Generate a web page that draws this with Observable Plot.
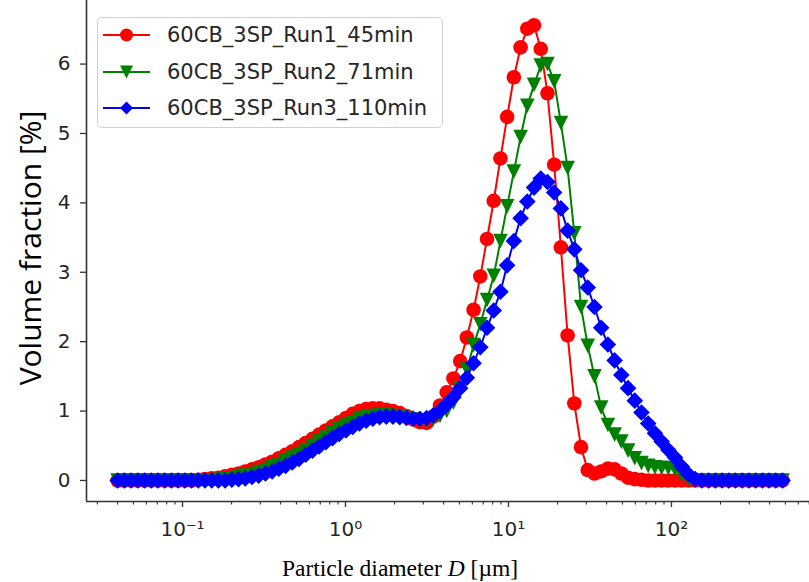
<!DOCTYPE html>
<html><head><meta charset="utf-8">
<script src="https://cdn.jsdelivr.net/npm/d3@7"></script>
<script src="https://cdn.jsdelivr.net/npm/@observablehq/plot@0.6"></script>
<style>
html,body{margin:0;padding:0;background:#fff;}
#wrap{position:relative;width:809px;height:582px;overflow:hidden;background:#fff;}
#ytitle{position:absolute;left:29px;top:248px;transform:translate(-50%,-50%) rotate(-90deg);font-family:"Open Sans",sans-serif;font-size:30px;white-space:nowrap;color:#000;}
#xtitle{position:absolute;left:400px;top:568px;transform:translate(-50%,-50%);font-family:"Liberation Serif","Times New Roman",serif;font-size:23.5px;white-space:nowrap;color:#000;}
#legend{position:absolute;left:97px;top:17px;width:346px;height:111px;border:1px solid #d0d0d0;border-radius:5px;background:rgba(255,255,255,0.85);box-sizing:border-box;}
</style></head><body><div id="wrap"></div>
<script>
// Particle size classes [µm]
const sizes = [0.0400,0.04398,0.04836,0.05317,0.05846,0.06428,0.07068,0.07772,0.08546,0.09395,
0.1033,0.1136,0.1249,0.1373,0.1510,0.1660,0.1826,0.2007,0.2207,0.2427,
0.2668,0.2934,0.3226,0.3547,0.3900,0.4289,0.4716,0.5185,0.5701,0.6269,
0.6893,0.7579,0.8333,0.9158,1.007,1.107,1.217,1.339,1.472,1.618,
1.779,1.956,2.151,2.365,2.601,2.860,3.144,3.457,3.801,4.180,
4.596,5.053,5.556,6.109,6.717,7.386,8.121,8.929,9.815,10.79,
11.87,13.05,14.35,15.78,17.35,19.07,20.97,23.06,25.35,27.87,
30.65,33.70,37.05,40.74,44.79,49.25,54.16,59.55,65.47,71.99,
79.16,87.04,95.70,105.2,115.7,127.2,139.9,153.8,169.1,185.9,
204.4,224.8,247.2,271.8,298.8,328.6,361.3,397.2,436.8,480.2];

const run1 = [0,0,0,0,0,0,0,0,0,0,
0,0,0.01,0.02,0.03,0.04,0.06,0.08,0.10,0.13,
0.16,0.19,0.23,0.27,0.32,0.37,0.42,0.48,0.54,0.60,
0.66,0.72,0.78,0.84,0.90,0.96,1.00,1.03,1.04,1.04,
1.02,1.00,0.97,0.93,0.88,0.84,0.83,0.92,1.08,1.27,
1.47,1.72,2.06,2.46,2.94,3.48,4.03,4.64,5.24,5.81,
6.24,6.51,6.56,6.22,5.58,4.55,3.36,2.09,1.11,0.48,
0.15,0.10,0.13,0.17,0.16,0.10,0.04,0.02,0.01,0,
0,0,0,0,0,0,0,0,0,0,
0,0,0,0,0,0,0,0,0,0];

const run2 = [0,0,0,0,0,0,0,0,0,0,
0,0,0,0,0,0.01,0.02,0.03,0.05,0.07,
0.09,0.12,0.15,0.19,0.23,0.28,0.33,0.38,0.44,0.50,
0.56,0.62,0.68,0.74,0.79,0.84,0.88,0.91,0.93,0.94,
0.94,0.93,0.92,0.90,0.88,0.86,0.86,0.88,0.93,1.00,
1.12,1.32,1.60,1.95,2.25,2.60,2.95,3.45,3.95,4.45,
4.95,5.40,5.70,5.98,6.00,5.75,5.15,4.50,3.56,2.50,
1.94,1.50,1.05,0.80,0.66,0.56,0.43,0.32,0.25,0.21,
0.19,0.18,0.18,0.16,0.08,0.02,0,0,0,0,
0,0,0,0,0,0,0,0,0,0];

const run3 = [0,0,0,0,0,0,0,0,0,0,
0,0,0,0,0,0,0,0.01,0.02,0.03,
0.05,0.07,0.10,0.13,0.17,0.21,0.26,0.31,0.37,0.43,
0.49,0.55,0.61,0.67,0.72,0.77,0.82,0.86,0.89,0.91,
0.92,0.92,0.91,0.90,0.89,0.89,0.90,0.94,1.00,1.10,
1.20,1.33,1.48,1.69,1.92,2.20,2.45,2.72,3.10,3.45,
3.78,4.02,4.22,4.35,4.30,4.15,3.92,3.60,3.33,3.03,
2.78,2.50,2.20,1.96,1.73,1.52,1.33,1.15,0.98,0.82,
0.68,0.56,0.44,0.33,0.20,0.09,0.02,0,0,0,
0,0,0,0,0,0,0,0,0,0];

const seriesNames = ["60CB_3SP_Run1_45min", "60CB_3SP_Run2_71min", "60CB_3SP_Run3_110min"];
const seriesColors = ["#ff0000", "#008000", "#0000ff"];
const yTicks = [0, 1, 2, 3, 4, 5, 6];
const xTicks = [0.1, 1, 10, 100];
const xTickLabels = ["10\u207B\u00B9", "10\u2070", "10\u00B9", "10\u00B2"];
const xMinorTicks = [0.03,0.04,0.05,0.06,0.07,0.08,0.09,
  0.2,0.3,0.4,0.5,0.6,0.7,0.8,0.9,
  2,3,4,5,6,7,8,9,
  20,30,40,50,60,70,80,90,
  200,300,400,500,600,700];

const xDomain = [0.02576, 703];
const yDomain = [-0.303, 6.916];

// marker shapes (matplotlib-like)
const triDown = {draw(ctx, size){ const a = Math.sqrt(size / Math.PI); ctx.moveTo(0, a); ctx.lineTo(-a, -a); ctx.lineTo(a, -a); ctx.closePath(); }};
const diamond = {draw(ctx, size){ const a = Math.sqrt(size / Math.PI); ctx.moveTo(0, -a); ctx.lineTo(a, 0); ctx.lineTo(0, a); ctx.lineTo(-a, 0); ctx.closePath(); }};
const symbols = ["circle", triDown, diamond];
const radii = [7.3, 7.3, 8.3];

const runs = [run1, run2, run3];
const tables = runs.map(r => sizes.map((D, i) => ({D, v: r[i]})));

const seriesMarks = [];
tables.forEach((t, k) => {
  seriesMarks.push(Plot.line(t, {x: "D", y: "v", stroke: seriesColors[k], strokeWidth: 2}));
  seriesMarks.push(Plot.dot(t, {x: "D", y: "v", r: radii[k], symbol: symbols[k], fill: seriesColors[k], stroke: "none"}));
});

const chart = Plot.plot({
  width: 809,
  height: 582,
  marginLeft: 86,
  marginRight: 0,
  marginTop: 0,
  marginBottom: 81,
  style: {background: "white", fontFamily: "DejaVu Sans", color: "#262626", overflow: "visible"},
  x: {type: "log", domain: xDomain},
  y: {domain: yDomain},
  marks: [
    Plot.axisY({ticks: yTicks, tickSize: 6, tickPadding: 10, fontSize: 20, label: null, stroke: "#333", strokeWidth: 1.3, fill: "#262626"}),
    Plot.axisX({ticks: xTicks, tickFormat: d => xTickLabels[xTicks.indexOf(d)], tickSize: 6, tickPadding: 14, fontSize: 20, label: null, stroke: "#333", strokeWidth: 1.3, fill: "#262626"}),
    Plot.axisX({ticks: xMinorTicks, tickSize: 3.5, text: null, label: null, stroke: "#333", strokeWidth: 1.1}),
    Plot.ruleX([xDomain[0]], {stroke: "#333", strokeWidth: 1.6}),
    Plot.ruleY([yDomain[0]], {stroke: "#333", strokeWidth: 1.6}),
    ...seriesMarks
  ]
});

const wrap = document.getElementById("wrap");
wrap.appendChild(chart);

const yt = document.createElement("div"); yt.id = "ytitle"; yt.textContent = "Volume fraction [%]"; wrap.appendChild(yt);
const xt = document.createElement("div"); xt.id = "xtitle"; xt.innerHTML = "Particle diameter <i>D</i> [\u00B5m]"; wrap.appendChild(xt);

// legend
const leg = document.createElement("div"); leg.id = "legend"; wrap.appendChild(leg);
const lsvg = d3.select(leg).append("svg").attr("width", 344).attr("height", 109).style("display", "block");
const rowY = [17, 54, 90];
seriesNames.forEach((name, k) => {
  const g = lsvg.append("g").attr("transform", `translate(0,${rowY[k]})`);
  g.append("line").attr("x1", 5).attr("x2", 52).attr("y1", 0).attr("y2", 0).attr("stroke", seriesColors[k]).attr("stroke-width", 2);
  const sym = d3.symbol(symbols[k] === "circle" ? d3.symbolCircle : symbols[k], Math.PI * 6.5 * 6.5);
  g.append("path").attr("d", sym()).attr("transform", "translate(28.5,0)").attr("fill", seriesColors[k]);
  g.append("text").attr("x", 69).attr("y", 0).attr("dy", "0.35em").attr("font-family", "DejaVu Sans").attr("font-size", 21).attr("fill", "#262626").text(name);
});
</script></body></html>
